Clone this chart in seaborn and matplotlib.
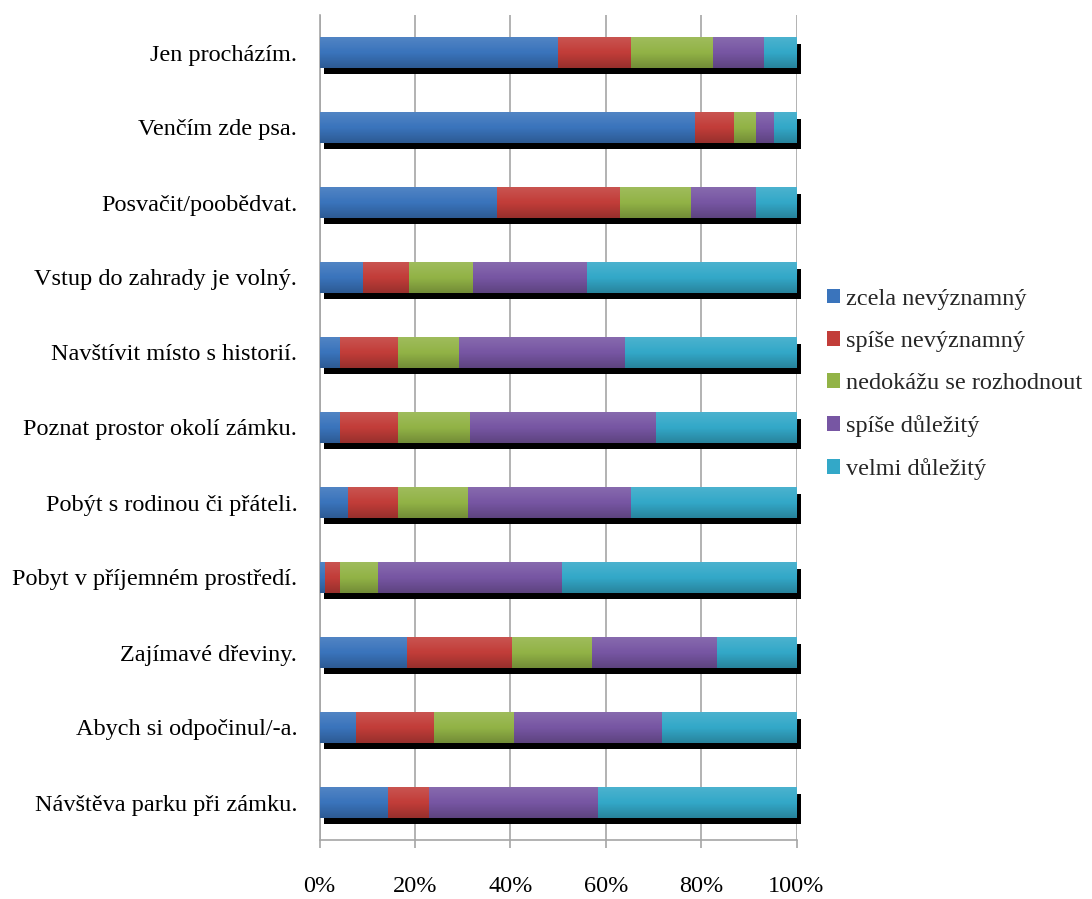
import numpy as np
import pandas as pd
import matplotlib
matplotlib.use("Agg")
import matplotlib.pyplot as plt
import seaborn as sns
from matplotlib import patheffects as pe
from matplotlib.patches import Patch

categories = [
    "Jen procházím.",
    "Venčím zde psa.",
    "Posvačit/poobědvat.",
    "Vstup do zahrady je volný.",
    "Navštívit místo s historií.",
    "Poznat prostor okolí zámku.",
    "Pobýt s rodinou či přáteli.",
    "Pobyt v příjemném prostředí.",
    "Zajímavé dřeviny.",
    "Abych si odpočinul/-a.",
    "Návštěva parku při zámku.",
]
series_names = [
    "zcela nevýznamný",
    "spíše nevýznamný",
    "nedokážu se rozhodnout",
    "spíše důležitý",
    "velmi důležitý",
]
zcela_nevyznamny = [50.0, 78.8, 37.2, 9.1, 4.2, 4.2, 5.9, 1.2, 18.3, 7.7, 14.3]
spise_nevyznamny = [15.3, 8.2, 25.7, 9.6, 12.3, 12.3, 10.6, 3.0, 22.1, 16.2, 8.6]
nedokazu = [17.1, 4.6, 14.9, 13.5, 12.8, 15.1, 14.7, 8.1, 16.7, 16.8, 0.0]
spise_dulezity = [10.7, 3.6, 13.7, 23.9, 34.8, 39.0, 34.0, 38.6, 26.3, 31.2, 35.5]
velmi_dulezity = [6.9, 4.8, 8.5, 43.9, 35.9, 29.4, 34.8, 49.1, 16.6, 28.1, 41.6]
tick_values = [0, 20, 40, 60, 80, 100]
tick_labels = ["0%", "20%", "40%", "60%", "80%", "100%"]
colors = ["#3A74BC", "#C23D39", "#92B346", "#7756A3", "#33A8C8"]

sns.set_theme(style="white")
plt.rcParams["font.family"] = ["Liberation Serif", "DejaVu Serif"]

W, H = 1092, 899
fig = plt.figure(figsize=(W / 100, H / 100), dpi=100)
fig.patch.set_facecolor("white")
ax = fig.add_axes([319.5 / W, 1 - 840 / H, (796.5 - 319.5) / W, (840 - 15) / H])

df = pd.DataFrame({"category": categories})
for name, vals in zip(series_names, [zcela_nevyznamny, spise_nevyznamny, nedokazu,
                                     spise_dulezity, velmi_dulezity]):
    df[name] = vals
cum = df[series_names].cumsum(axis=1)

total_patches = []
for i in reversed(range(len(series_names))):
    n_before = len(ax.patches)
    sns.barplot(x=cum[series_names[i]].values, y=df["category"], orient="h",
                color=colors[i], saturation=1, width=0.41, linewidth=0,
                ax=ax, zorder=3)
    if i == len(series_names) - 1:
        total_patches = list(ax.patches[n_before:])
        for p in total_patches:
            p.set_clip_on(False)
            p.set_path_effects([
                pe.SimplePatchShadow(offset=(3.0, -4.6), shadow_rgbFace="black", alpha=1.0),
                pe.Normal(),
            ])

# subtle vertical shading like the original chart (light top, darker bottom)
t = np.linspace(0, 1, 64)[:, None] * np.ones((1, 2))
grad = np.zeros((64, 2, 4))
for c in range(3):
    grad[..., c] = np.where(t < 0.5, 1.0, 0.0)
grad[..., 3] = np.where(t < 0.5, 0.12 * (1 - 2 * t), 0.22 * (2 * t - 1))
for p in total_patches:
    x0, y0 = p.get_x(), p.get_y()
    w, h = p.get_width(), p.get_height()
    im = ax.imshow(grad, extent=[x0, x0 + w, y0 + h, y0], aspect="auto",
                   zorder=4, interpolation="bilinear")
    im.set_clip_path(p)

ax.set_xlim(0, 100)
ax.set_ylim(10.5, -0.5)
ax.set_aspect("auto")
ax.set_xticks(tick_values)
ax.set_xticklabels(tick_labels)
ax.set_xlabel("")
ax.set_ylabel("")
ax.grid(axis="x", color="#A6A6A6", linewidth=1.2, zorder=0)
ax.grid(axis="y", visible=False)
ax.set_axisbelow(True)
for s in ["top", "right"]:
    ax.spines[s].set_visible(False)
for s in ["left", "bottom"]:
    ax.spines[s].set_color("#A6A6A6")
    ax.spines[s].set_linewidth(1.2)
ax.tick_params(axis="x", bottom=True, length=6, width=1.2, color="#A6A6A6",
               pad=20, labelsize=17.5, labelcolor="black", direction="out")
ax.tick_params(axis="y", left=False, length=0, pad=16, labelsize=17.5,
               labelcolor="black")

handles = [Patch(facecolor=c, edgecolor="none", label=n) for c, n in zip(colors, series_names)]
fig.legend(handles=handles, loc="center left", bbox_to_anchor=(827 / W, 1 - 384.5 / H),
           frameon=False, fontsize=17.5, handlelength=0.55, handleheight=0.55,
           handletextpad=0.25, labelspacing=0.87, borderpad=0, borderaxespad=0)

fig.savefig("out.png", dpi=100, facecolor="white")
